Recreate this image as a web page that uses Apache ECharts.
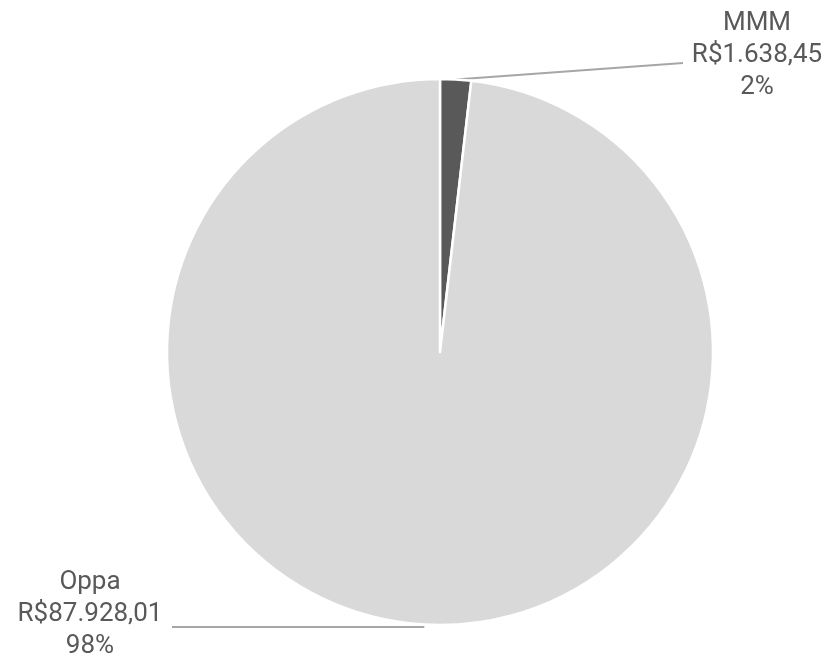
<!DOCTYPE html>
<html>
<head>
<meta charset="utf-8">
<script src="https://cdn.jsdelivr.net/npm/echarts@6/dist/echarts.min.js"></script>
<style>html,body{margin:0;padding:0;background:#fff;}#c{width:829px;height:660px;}</style>
</head>
<body>
<div id="c"></div>
<script>
const categories = ['MMM', 'Oppa'];
const values = [1638.45, 87928.01];
const colors = ['#595959', '#d9d9d9'];

function fmtBRL(v) {
  const parts = v.toFixed(2).split('.');
  const intPart = parts[0].replace(/\B(?=(\d{3})+(?!\d))/g, '.');
  return 'R$' + intPart + ',' + parts[1];
}

const chart = echarts.init(document.getElementById('c'), null, {renderer: 'canvas'});
chart.setOption({
  animation: false,
  backgroundColor: '#ffffff',
  series: [{
    type: 'pie',
    center: [440, 352],
    radius: 273,
    startAngle: 90,
    clockwise: true,
    percentPrecision: 0,
    emphasis: {disabled: true},
    itemStyle: {borderColor: '#ffffff', borderWidth: 2.5},
    data: categories.map((n, i) => ({name: n, value: values[i], itemStyle: {color: colors[i]}})),
    label: {
      show: true,
      position: 'outside',
      formatter: p => p.name + '\n' + fmtBRL(p.value) + '\n' + Math.round(p.percent) + '%',
      fontFamily: 'Roboto',
      fontSize: 26,
      lineHeight: 32,
      color: '#595959',
      align: 'center'
    },
    labelLine: {
      show: true,
      lineStyle: {color: '#a6a6a6', width: 2}
    },
    labelLayout: function (params) {
      const start = params.labelLinePoints ? params.labelLinePoints[0] : null;
      if (params.dataIndex === 0) {
        return {
          x: 757, y: 55, align: 'center', verticalAlign: 'middle',
          labelLinePoints: start ? [start, [683, 63], [683, 63]] : undefined
        };
      } else {
        return {
          x: 90, y: 614, align: 'center', verticalAlign: 'middle',
          labelLinePoints: start ? [[start[0], 627], [172, 627], [172, 627]] : undefined
        };
      }
    }
  }]
});
</script>
</body>
</html>
